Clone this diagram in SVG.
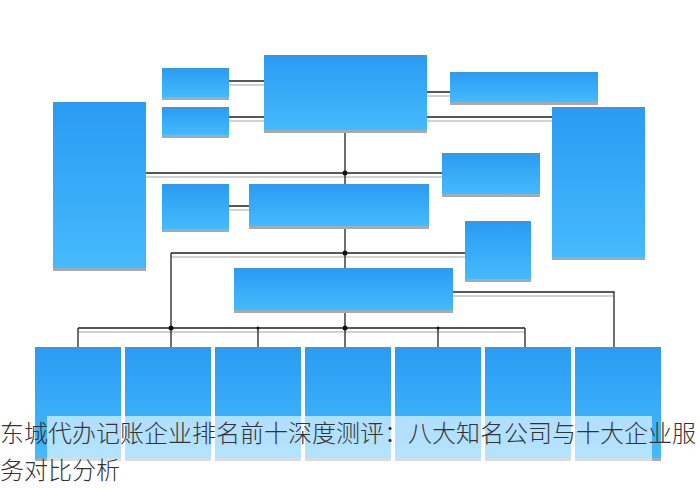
<svg xmlns="http://www.w3.org/2000/svg" width="700" height="488" viewBox="0 0 700 488">
<defs>
<linearGradient id="g" x1="0" y1="0" x2="0" y2="1">
<stop offset="0" stop-color="#2a9bf3"/>
<stop offset="1" stop-color="#46bafc"/>
</linearGradient>
<style>
.box{fill:url(#g)}
.sh{fill:#a9a9a9}
.ln{stroke:#222;stroke-width:1.3;fill:none}
.gl{stroke:#c4c4c4;stroke-width:1.3;fill:none}
.dot{fill:#111}
.t{font-family:"Noto Sans CJK SC","Noto Sans",sans-serif;font-size:24px;fill:#333;font-weight:300}
</style>
</defs>
<rect width="700" height="488" fill="#fff"/>
<g id="connectors">
<path class="gl" d="M229 85H264M229 121H264M427 96H450M427 121H552M146 177H442M229 210H249M171 257H465M78 332H525M453 296H614"/>
<path class="ln" d="M229 81H264M229 117H264M427 92H450M427 117H552M146 173H442M229 206H249M171 253H465M345 130V347M171 253V347M78 328H525M78 328V347M258 328V347M438 328V347M525 328V347M453 292H614V347"/>
<circle class="dot" cx="345" cy="173" r="2.5"/>
<circle class="dot" cx="345" cy="253" r="2.5"/>
<circle class="dot" cx="171" cy="328" r="2.5"/>
<circle class="dot" cx="345" cy="328" r="2.5"/>
<circle class="dot" cx="258" cy="328" r="1.6"/>
<circle class="dot" cx="438" cy="328" r="1.6"/>
</g>
<g id="n1"><rect class="sh" x="264" y="58" width="163" height="75"/><rect class="box" x="264" y="55" width="163" height="75"/></g>
<g id="n2"><rect class="sh" x="162" y="71" width="67" height="29"/><rect class="box" x="162" y="68" width="67" height="29"/></g>
<g id="n3"><rect class="sh" x="162" y="110" width="67" height="28"/><rect class="box" x="162" y="107" width="67" height="28"/></g>
<g id="n4"><rect class="sh" x="53" y="105" width="93" height="166"/><rect class="box" x="53" y="102" width="93" height="166"/></g>
<g id="n5"><rect class="sh" x="450" y="75" width="148" height="30"/><rect class="box" x="450" y="72" width="148" height="30"/></g>
<g id="n6"><rect class="sh" x="552" y="110" width="93" height="150"/><rect class="box" x="552" y="107" width="93" height="150"/></g>
<g id="n7"><rect class="sh" x="442" y="156" width="98" height="41"/><rect class="box" x="442" y="153" width="98" height="41"/></g>
<g id="n8"><rect class="sh" x="162" y="187" width="67" height="45"/><rect class="box" x="162" y="184" width="67" height="45"/></g>
<g id="n9"><rect class="sh" x="249" y="187" width="180" height="42"/><rect class="box" x="249" y="184" width="180" height="42"/></g>
<g id="n10"><rect class="sh" x="465" y="224" width="66" height="58"/><rect class="box" x="465" y="221" width="66" height="58"/></g>
<g id="n11"><rect class="sh" x="234" y="271" width="219" height="42"/><rect class="box" x="234" y="268" width="219" height="42"/></g>
<g id="b1"><rect class="sh" x="35" y="350" width="86" height="111"/><rect class="box" x="35" y="347" width="86" height="111"/></g>
<g id="b2"><rect class="sh" x="125" y="350" width="86" height="111"/><rect class="box" x="125" y="347" width="86" height="111"/></g>
<g id="b3"><rect class="sh" x="215" y="350" width="86" height="111"/><rect class="box" x="215" y="347" width="86" height="111"/></g>
<g id="b4"><rect class="sh" x="305" y="350" width="86" height="111"/><rect class="box" x="305" y="347" width="86" height="111"/></g>
<g id="b5"><rect class="sh" x="395" y="350" width="86" height="111"/><rect class="box" x="395" y="347" width="86" height="111"/></g>
<g id="b6"><rect class="sh" x="485" y="350" width="86" height="111"/><rect class="box" x="485" y="347" width="86" height="111"/></g>
<g id="b7"><rect class="sh" x="575" y="350" width="86" height="111"/><rect class="box" x="575" y="347" width="86" height="111"/></g>
<g id="caption">
<rect x="47" y="416" width="605" height="45" fill="#fff" fill-opacity="0.6"/>
<text class="t" x="0" y="442">东城代办记账企业排名前十深度测评：八大知名公司与十大企业服</text>
<text class="t" x="0" y="479">务对比分析</text>
</g>
</svg>
